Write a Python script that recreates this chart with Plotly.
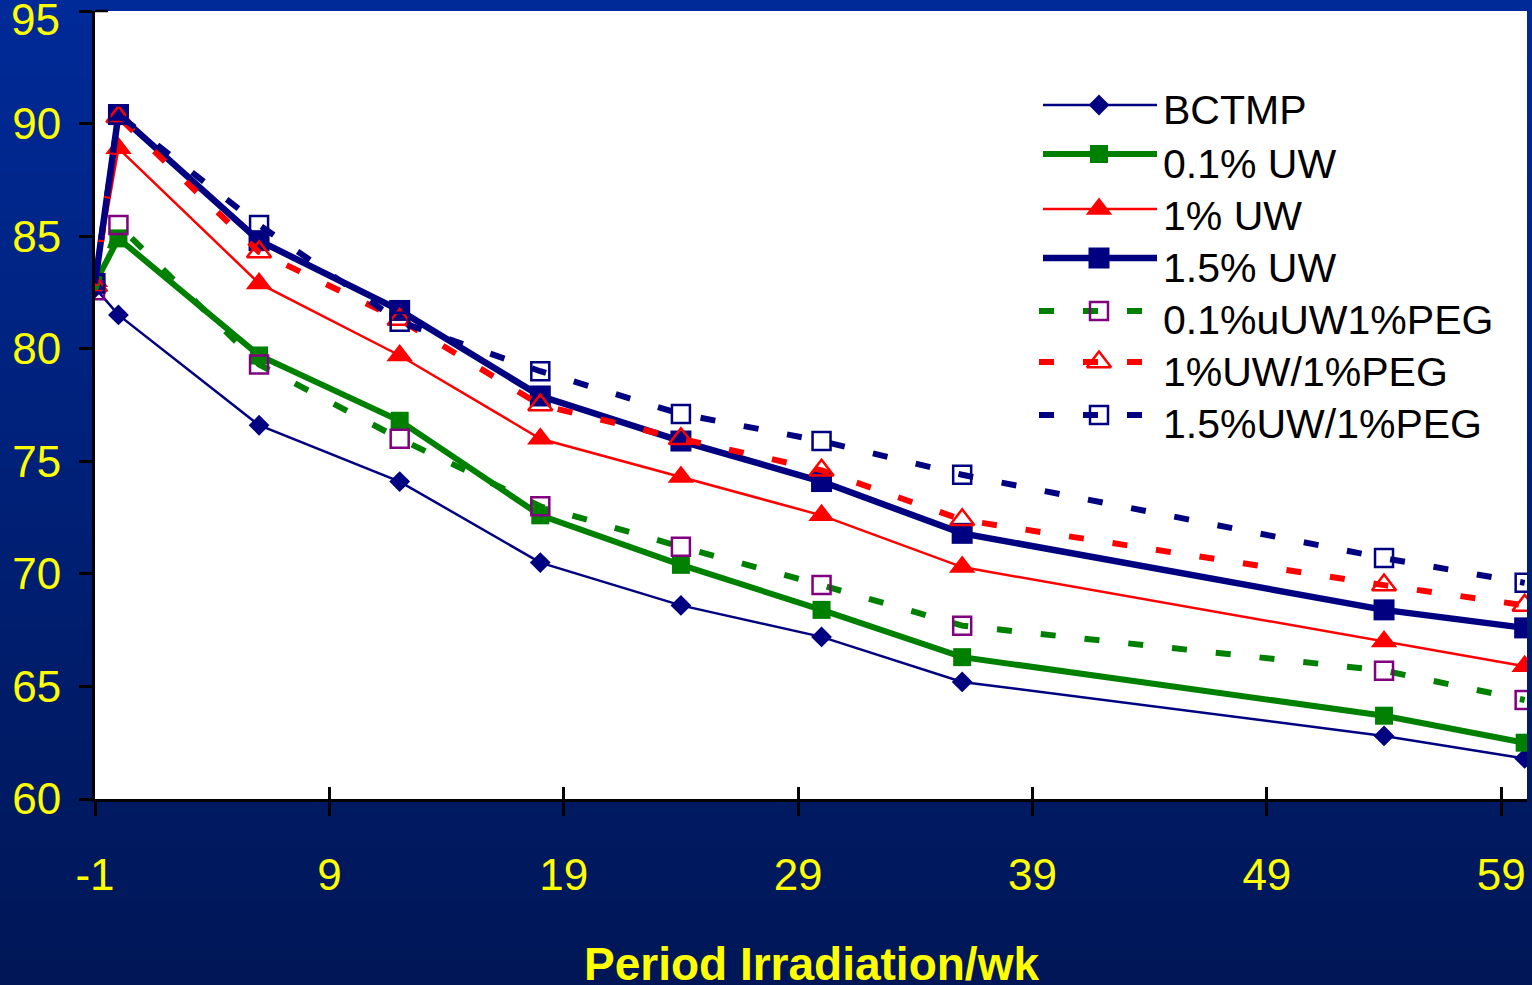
import plotly.graph_objects as go

# Irradiation period (weeks) and brightness readings per treatment
weeks = [-1, 0, 6, 12, 18, 24, 30, 36, 54, 60]

bctmp = [82.7, 81.5, 76.6, 74.1, 70.5, 68.6, 67.2, 65.2, 62.8, 61.8]
uw_01 = [82.9, 84.9, 79.7, 76.8, 72.6, 70.4, 68.4, 66.3, 63.7, 62.5]
uw_1 = [83.0, 88.9, 82.9, 79.7, 76.0, 74.3, 72.6, 70.3, 67.0, 65.9]
uw_15 = [82.9, 90.4, 84.8, 81.7, 77.9, 75.9, 74.1, 71.8, 68.4, 67.6]
uw_01_peg = [82.6, 85.5, 79.3, 76.0, 73.0, 71.2, 69.5, 67.7, 65.7, 64.4]
uw_1_peg = [82.8, 90.3, 84.3, 81.3, 77.5, 76.0, 74.6, 72.4, 69.5, 68.6]
uw_15_peg = [82.9, 90.4, 85.5, 81.2, 79.0, 77.1, 75.9, 74.4, 70.7, 69.6]

series_names = ["BCTMP", "0.1% UW", "1% UW", "1.5% UW",
                "0.1%uUW1%PEG", "1%UW/1%PEG", "1.5%UW/1%PEG"]

x_tick_vals = [-1, 9, 19, 29, 39, 49, 59]
x_tick_text = ["-1", "9", "19", "29", "39", "49", "59"]
y_tick_vals = [60, 65, 70, 75, 80, 85, 90, 95]
y_tick_text = ["60", "65", "70", "75", "80", "85", "90", ""]

NAVY = "#000080"
GREEN = "#008000"
RED = "#FF0000"
PURPLE = "#800080"
YELLOW = "#FFFF00"
FONT = "Liberation Sans, Arial, sans-serif"
DASH = "15px,29px"

styles = [
    dict(line=dict(color=NAVY, width=2.5),
         marker=dict(symbol="diamond", size=16, color=NAVY)),
    dict(line=dict(color=GREEN, width=6),
         marker=dict(symbol="square", size=18, color=GREEN)),
    dict(line=dict(color=RED, width=2.5),
         marker=dict(symbol="triangle-up", size=23, color=RED)),
    dict(line=dict(color=NAVY, width=6.5),
         marker=dict(symbol="square", size=21, color=NAVY)),
    dict(line=dict(color=GREEN, width=6, dash=DASH),
         marker=dict(symbol="square-open", size=18, color=PURPLE,
                     line=dict(width=2.5, color=PURPLE))),
    dict(line=dict(color=RED, width=6, dash=DASH),
         marker=dict(symbol="triangle-up-open", size=21, color=RED,
                     line=dict(width=2.5, color=RED))),
    dict(line=dict(color=NAVY, width=6, dash=DASH),
         marker=dict(symbol="square-open", size=18, color=NAVY,
                     line=dict(width=2.5, color=NAVY))),
]

values = [bctmp, uw_01, uw_1, uw_15, uw_01_peg, uw_1_peg, uw_15_peg]

fig = go.Figure()

for name, vals, st in zip(series_names, values, styles):
    fig.add_trace(go.Scatter(
        x=weeks, y=vals, name=name, mode="lines+markers",
        line=st["line"], marker=st["marker"], showlegend=False,
        hoverinfo="x+y+name",
    ))

# Legend drawn on a pixel-scaled overlay so the line samples can be long
leg_rows = [105, 154, 209, 258, 311, 362, 415]
leg_text_rows = [110, 164, 216, 268, 320, 372, 424]
for i, (name, st) in enumerate(zip(series_names, styles)):
    yr = leg_rows[i]
    dashed = "dash" in st["line"]
    x0, x1 = (1039, 1143) if dashed else (1043, 1157)
    fig.add_trace(go.Scatter(
        x=[x0, x1], y=[yr, yr], mode="lines", line=st["line"],
        xaxis="x2", yaxis="y2", showlegend=False, hoverinfo="skip",
    ))
    fig.add_trace(go.Scatter(
        x=[1099], y=[yr], mode="markers", marker=st["marker"],
        xaxis="x2", yaxis="y2", showlegend=False, hoverinfo="skip",
    ))
    fig.add_annotation(
        x=1161, y=leg_text_rows[i], xref="x2", yref="y2", text=name,
        xanchor="left", yanchor="middle", showarrow=False,
        font=dict(family=FONT, size=41, color="black"),
    )

# Carrier trace for the inner half of the crossing x ticks
fig.add_trace(go.Scatter(x=[], y=[], xaxis="x3", yaxis="y",
                         showlegend=False, hoverinfo="skip"))

# Blue vertical gradient behind everything, white plot area on top of it
W, H = 1532, 985
ML, MR, MT, MB = 95, 5, 11, 186
PW, PH = W - ML - MR, H - MT - MB
top_rgb = (0, 42, 152)
bot_rgb = (0, 22, 86)
n_strips = 80
shapes = []
for k in range(n_strips):
    f = k / (n_strips - 1)
    r = round(top_rgb[0] + (bot_rgb[0] - top_rgb[0]) * f)
    g = round(top_rgb[1] + (bot_rgb[1] - top_rgb[1]) * f)
    b = round(top_rgb[2] + (bot_rgb[2] - top_rgb[2]) * f)
    py0 = H * k / n_strips
    py1 = H * (k + 1) / n_strips + 1
    shapes.append(dict(
        type="rect", xref="paper", yref="paper", layer="below",
        x0=-ML / PW, x1=(PW + MR) / PW,
        y0=(H - MB - py1) / PH, y1=(H - MB - py0) / PH,
        fillcolor=f"rgb({r},{g},{b})", line=dict(width=0),
    ))
shapes.append(dict(type="rect", xref="paper", yref="paper", layer="below",
                   x0=0, x1=1, y0=0, y1=1, fillcolor="white",
                   line=dict(width=0)))
# Short cap line at the top of the value axis
shapes.append(dict(type="line", xref="paper", yref="paper", layer="above",
                   x0=0, x1=13 / PW, y0=1, y1=1,
                   line=dict(color="black", width=2.5)))

# Top y label sits just inside the canvas edge
fig.add_annotation(
    text="95", xref="paper", yref="paper",
    x=(62 - ML) / PW, y=(H - MB - 19) / PH,
    xanchor="right", yanchor="middle", showarrow=False,
    font=dict(family=FONT, size=44, color=YELLOW),
)

fig.add_annotation(
    text="<b>Period Irradiation/wk</b>", xref="paper", yref="paper",
    x=0.5, y=-(964 - (H - MB)) / PH, xanchor="center", yanchor="middle",
    showarrow=False, font=dict(family=FONT, size=46, color=YELLOW),
)

fig.update_layout(
    width=W, height=H,
    margin=dict(l=ML, r=MR, t=MT, b=MB, pad=0),
    paper_bgcolor="#00206a",
    plot_bgcolor="white",
    shapes=shapes,
    showlegend=False,
    xaxis=dict(
        range=[-1, 60.1], tickvals=x_tick_vals, ticktext=x_tick_text,
        ticks="outside", ticklen=14, tickwidth=2.5, tickcolor="black",
        showline=True, linecolor="black", linewidth=3,
        showgrid=False, zeroline=False, ticklabelstandoff=21,
        tickfont=dict(family=FONT, size=44, color=YELLOW),
    ),
    xaxis3=dict(
        range=[-1, 60.1], tickvals=x_tick_vals, ticks="inside",
        ticklen=12, tickwidth=2.5, tickcolor="black",
        overlaying="x", anchor="y", side="bottom",
        showline=False, showgrid=False, zeroline=False,
        showticklabels=False,
    ),
    yaxis=dict(
        range=[60, 95], tickvals=y_tick_vals, ticktext=y_tick_text,
        ticks="outside", ticklen=13, tickwidth=2.5, tickcolor="black",
        showline=True, linecolor="black", linewidth=3,
        showgrid=False, zeroline=False, ticklabelstandoff=9,
        tickfont=dict(family=FONT, size=44, color=YELLOW),
    ),
    xaxis2=dict(range=[ML, W - MR], overlaying="x", anchor="y2",
                visible=False, fixedrange=True),
    yaxis2=dict(range=[H - MB, MT], overlaying="y", anchor="x2",
                visible=False, fixedrange=True),
)

fig.write_html("out.html")
